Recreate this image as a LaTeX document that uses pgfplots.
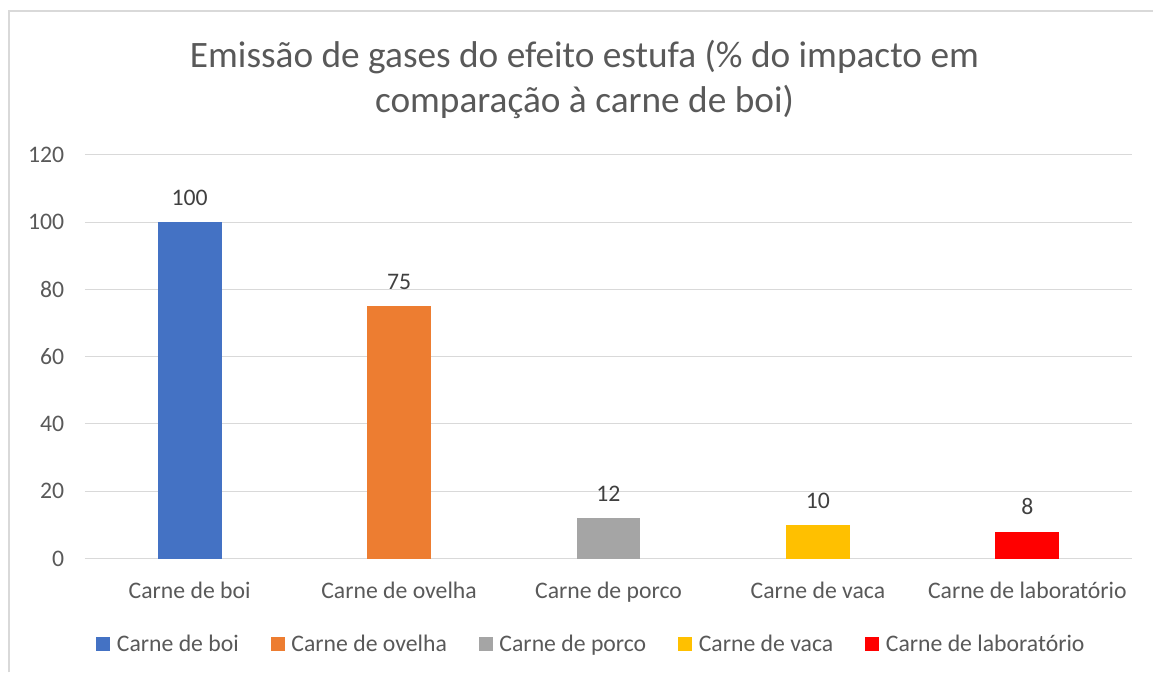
\documentclass[border=0pt]{standalone}
\usepackage{fontspec}
\setmainfont{Carlito}
\usepackage{pgfplots}
\pgfplotsset{compat=1.18}

\definecolor{cboi}{HTML}{4472C4}
\definecolor{covelha}{HTML}{ED7D31}
\definecolor{cporco}{HTML}{A5A5A5}
\definecolor{cvaca}{HTML}{FFC000}
\definecolor{clab}{HTML}{FF0000}
\definecolor{gridgray}{HTML}{D9D9D9}
\definecolor{txtgray}{HTML}{595959}
\definecolor{lblgray}{HTML}{404040}

\begin{document}
\begin{tikzpicture}
\begin{axis}[
    scale only axis,
    width=786pt, height=303pt,
    xmin=-0.5, xmax=4.5,
    ymin=0, ymax=120,
    ytick={0,20,...,120},
    xtick={0,1,2,3,4},
    xticklabels={Carne de boi, Carne de ovelha, Carne de porco, Carne de vaca, Carne de laboratório},
    axis line style={draw=none},
    major tick length=0pt,
    ymajorgrids,
    grid style={gridgray, line width=0.8pt},
    tick label style={font=\fontsize{17.8}{20}\selectfont, text=txtgray},
    /pgf/number format/assume math mode=true,
    yticklabel style={xshift=-12pt},
    xticklabel style={yshift=-14pt},
    ybar, bar width=48pt,
    nodes near coords,
    every node near coord/.append style={font=\fontsize{17.8}{20}\selectfont, text=lblgray, yshift=9pt},
    legend columns=5,
    legend style={draw=none, at={(0.484,-0.213)}, anchor=center,
        font=\fontsize{17.8}{20}\selectfont, text=txtgray,
        /tikz/every odd column/.append style={column sep=3pt},
        /tikz/every even column/.append style={column sep=22pt}},
    legend image code/.code={\fill[#1] (0pt,-5pt) rectangle (10.5pt,5.5pt);},
]
\addplot[fill=cboi, draw=none, bar shift=0pt] coordinates {(0,100)};
\addlegendentry{Carne de boi}
\addplot[fill=covelha, draw=none, bar shift=0pt] coordinates {(1,75)};
\addlegendentry{Carne de ovelha}
\addplot[fill=cporco, draw=none, bar shift=0pt] coordinates {(2,12)};
\addlegendentry{Carne de porco}
\addplot[fill=cvaca, draw=none, bar shift=0pt] coordinates {(3,10)};
\addlegendentry{Carne de vaca}
\addplot[fill=clab, draw=none, bar shift=0pt] coordinates {(4,8)};
\addlegendentry{Carne de laboratório}
\end{axis}
\begin{scope}[x=0.75pt, y=0.75pt]
\path (-85,-114) rectangle (1069,559);
\draw[gridgray, line width=1.5pt] (-76,-114) -- (-76,548) -- (1069,548);
\node[font=\fontsize{28}{32}\selectfont, text=txtgray] at (500,502) {Emissão de gases do efeito estufa (\% do impacto em};
\node[font=\fontsize{28}{32}\selectfont, text=txtgray] at (500,457) {comparação à carne de boi)};
\end{scope}
\end{tikzpicture}
\end{document}
